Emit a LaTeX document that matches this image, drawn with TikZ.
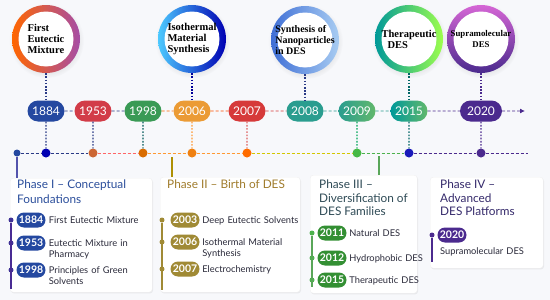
\documentclass[tikz,border=0pt]{standalone}
\usepackage{fontspec}
\newfontfamily\uifont[Ligatures=TeX]{Lato}
\newfontfamily\circfont{Liberation Serif}
\usetikzlibrary{positioning,shapes.misc,shadows,arrows.meta}
\definecolor{bgpage}{HTML}{F7F8FB}
\definecolor{navy}{HTML}{2A3A86}
\definecolor{blueA}{HTML}{2448A0}
\definecolor{redA}{HTML}{D23C48}
\definecolor{greenA}{HTML}{3A9A55}
\definecolor{orangeA}{HTML}{EB9B35}
\definecolor{redB}{HTML}{D63A3A}
\definecolor{tealA}{HTML}{2A9D8F}
\definecolor{limeA}{HTML}{62B86C}
\definecolor{purpleA}{HTML}{4B2A8E}
\definecolor{oliveA}{HTML}{A08A35}
\definecolor{titleI}{HTML}{2B4E9B}
\definecolor{titleII}{HTML}{A07C2C}
\definecolor{titleIII}{HTML}{2E4A55}
\definecolor{titleIV}{HTML}{352A6B}
\definecolor{itemink}{HTML}{2A2A3A}
\definecolor{ringC}{HTML}{3F6FD6}
\definecolor{ringCb}{HTML}{A8CCF2}
\tikzset{
  ring/.style={circle,minimum size=68pt,inner sep=0pt,circular drop shadow={opacity=0.12,shadow xshift=0.5pt,shadow yshift=-1.5pt},
    path picture={\fill[white] (path picture bounding box.center) circle (27.5pt);}},
  bubble/.style={inner sep=0pt,align=left,font=\circfont\bfseries\fontsize{10.5}{11}\selectfont},
  yearpill/.style={rounded rectangle,minimum height=21pt,minimum width=39pt,inner sep=1pt,text=white,font=\uifont\fontsize{12}{12}\selectfont},
  minipill/.style={rounded rectangle,minimum height=15pt,minimum width=31pt,inner sep=1pt,text=white,font=\uifont\bfseries\fontsize{10.5}{10.5}\selectfont},
  tdot/.style={circle,inner sep=0pt,minimum size=9pt},
  sdot/.style={circle,inner sep=0pt,minimum size=5pt},
  vdot/.style={dash pattern=on 1.6pt off 1.6pt,line width=1.2pt},
  hdash/.style={dash pattern=on 3pt off 2pt,line width=0.9pt},
  phasebox/.style={rectangle,rounded corners=3pt,fill=white,draw=black!6,anchor=north west,drop shadow={opacity=0.12,shadow xshift=0.8pt,shadow yshift=-1.2pt}},
  phasetitle/.style={anchor=north west,inner sep=0pt,align=left,font=\uifont\fontsize{11.8}{14.5}\selectfont},
  itemtext/.style={anchor=base west,inner sep=0pt,align=left,text width=115pt,text=itemink,font=\uifont\fontsize{9.3}{11}\selectfont}
}
\begin{document}
\begin{tikzpicture}[x=1pt,y=-1pt]
\useasboundingbox (0,0) rectangle (550,300);
\fill[bgpage] (0,0) rectangle (550,300);

\node[ring,left color=orange!80!red,right color=violet!70] (c1) at (46,39) {};
\node[bubble] (c1t) at (c1) {First\\Eutectic\\Mixture};
\node[ring,left color=cyan!70!blue!70,right color=blue!70!black] (c2) at (192,39) {};
\node[bubble] (c2t) at (c2) {Isothermal\\Material\\Synthesis};
\node[ring,left color=ringC,right color=ringCb] (c3) at (305,40) {};
\node[bubble,font=\circfont\bfseries\fontsize{10}{11}\selectfont] (c3t) at (c3) {Synthesis of\\Nanoparticles\\in DES};
\node[ring,left color=teal!80!cyan,right color=lime!60!green!70] (c4) at (409,39) {};
\node[bubble] (c4t) at (c4) {Therapeutic\\\hspace{6pt}DES};
\node[ring,top color=violet!55!magenta!60,bottom color=purpleA] (c5) at (481,39) {};
\node[bubble,align=center,font=\circfont\bfseries\fontsize{8.8}{11}\selectfont] (c5t) at (c5) {Supramolecular\\DES};

\node[yearpill,fill=blueA] (y1) at (46,111) {1884};
\node[yearpill,fill=redA] (y2) at (93,111) {1953};
\node[yearpill,fill=greenA] (y3) at (143,111) {1998};
\node[yearpill,fill=orangeA] (y4) at (192,111) {2006};
\node[yearpill,fill=redB] (y5) at (247,111) {2007};
\node[yearpill,fill=tealA] (y6) at (305,111) {2008};
\node[yearpill,left color=tealA,right color=limeA] (y7) at (357,111) {2009};
\node[yearpill,left color=teal!80!cyan,right color=limeA] (y8) at (409,111) {2015};
\node[yearpill,fill=purpleA,minimum width=44pt] (y9) at (481,111) {2020};
\coordinate (yend) at (525,111);

\draw[vdot,navy] (c1) -- (y1);
\draw[vdot,blue!60!black] (c2) -- (y4);
\draw[vdot,navy] (c3) -- (y6);
\draw[vdot,teal!80!black] (c4) -- (y8);
\draw[vdot,purpleA] (c5) -- (y9);

\draw[hdash,navy] (y1) -- (y2);
\draw[hdash,navy] (y2) -- (y3);
\draw[hdash,orange!80!red] (y3) -- (y4);
\draw[hdash,orange!60!red] (y4) -- (y5);
\draw[hdash,redB] (y5) -- (y6);
\draw[hdash,tealA] (y6) -- (y7);
\draw[hdash,tealA] (y7) -- (y8);
\draw[hdash,purpleA] (y8) -- (y9);
\draw[hdash,purpleA,-{Latex[length=5pt,width=5pt]}] (y9) -- (yend);

\node[sdot,fill=blueA,minimum size=7pt] (d0) at (17,153) {};
\node[tdot,fill=blue!70!black] (d1) at (46,153) {};
\node[tdot,fill=brown!80!red] (d2) at (93,153) {};
\node[tdot,fill=orange!85!black] (d3) at (143,153) {};
\node[tdot,fill=orange!75!brown] (d4) at (192,153) {};
\node[tdot,fill=orange!85!red] (d5) at (247,153) {};
\node[tdot,fill=green!45!gray] (d6) at (357,153) {};
\node[tdot,fill=blue!70!black!90] (d7) at (409,153) {};
\node[tdot,fill=purpleA] (d8) at (481,153) {};
\coordinate (dend) at (528,153);

\draw[vdot,navy] (y1) -- (d1);
\draw[vdot,navy] (y2) -- (d2);
\draw[vdot,teal!70!black] (y3) -- (d3);
\draw[vdot,orange!80!white] (y4) -- (d4);
\draw[vdot,redB!80] (y5) -- (d5);
\draw[vdot,teal!70!green] (y7) -- (d6);
\draw[vdot,teal!80!black] (y8) -- (d7);
\draw[vdot,purpleA] (y9) -- (d8);

\draw[hdash,navy] (d0) -- (d1);
\draw[hdash,navy] (d1) -- (d2);
\draw[hdash,red!60!white] (d2) -- (d3);
\draw[hdash,orange!80] (d3) -- (d4);
\draw[hdash,orange!80] (d4) -- (d5);
\draw[hdash,yellow!60!olive] (d5) -- (d6);
\draw[hdash,green!40!gray] (d6) -- (d7);
\draw[hdash,purpleA] (d7) -- (d8);
\draw[hdash,purpleA] (d8) -- (dend);

\node[phasebox,minimum width=142pt,minimum height=114pt] (b1) at (10,178) {};
\node[phasebox,minimum width=140pt,minimum height=115pt] (b2) at (160,177) {};
\node[phasebox,minimum width=107pt,minimum height=118pt] (b3) at (310,175) {};
\node[phasebox,minimum width=113pt,minimum height=91pt] (b4) at (430,177) {};

\coordinate (k2) at (172,157);
\coordinate (k3) at (379,156);
\draw[line width=1.2pt,blue!35!gray] (d0) -- (d0 |- b1.north);
\draw[line width=1.2pt,olive!70!orange] (k2) -- (k2 |- b2.north);
\draw[line width=1.2pt,gray!70!green] (k3) -- (k3 |- b3.north);

\node[phasetitle,text=titleI] (h1) at (17,180) {Phase I -- Conceptual\\Foundations};
\node[phasetitle,text=titleII] (h2) at (167,180) {Phase II -- Birth of DES};
\node[phasetitle,text=titleIII,font=\uifont\fontsize{11.8}{13.5}\selectfont] (h3) at (319,180) {Phase III --\\Diversification of\\DES Families};
\node[phasetitle,text=titleIV,font=\uifont\fontsize{11.8}{13.5}\selectfont] (h4) at (440,180) {Phase IV --\\Advanced\\DES Platforms};

\node[sdot,fill=blueA!70!violet] (e11) at (11,220) {};
\node[sdot,fill=blueA!70!violet] (e12) at (11,243) {};
\node[sdot,fill=blueA!70!violet] (e13) at (11,270) {};
\coordinate (f1) at (11,289);
\draw[line width=1.3pt,blueA!60!violet] (e11) -- (f1);
\node[minipill,fill=blueA] (m11) at (31,220) {1884};
\node[minipill,fill=blueA] (m12) at (31,243) {1953};
\node[minipill,fill=blueA] (m13) at (31,270) {1998};
\node[itemtext] (t11) at ([xshift=3pt]m11.base east) {First Eutectic Mixture};
\node[itemtext] (t12) at ([xshift=3pt]m12.base east) {Eutectic Mixture in\\Pharmacy};
\node[itemtext] (t13) at ([xshift=3pt]m13.base east) {Principles of Green\\Solvents};

\node[sdot,fill=oliveA] (e21) at (162,220) {};
\node[sdot,fill=oliveA] (e22) at (162,242) {};
\node[sdot,fill=oliveA] (e23) at (162,269) {};
\coordinate (f2) at (162,290);
\draw[line width=1.3pt,oliveA] (e21) -- (f2);
\node[minipill,fill=oliveA] (m21) at (185,220) {2003};
\node[minipill,fill=oliveA] (m22) at (185,242) {2006};
\node[minipill,fill=oliveA] (m23) at (185,269) {2007};
\node[itemtext] (t21) at ([xshift=2.5pt]m21.base east) {Deep Eutectic Solvents};
\node[itemtext] (t22) at ([xshift=2.5pt]m22.base east) {Isothermal Material\\Synthesis};
\node[itemtext] (t23) at ([xshift=2.5pt]m23.base east) {Electrochemistry};

\node[sdot,fill=green!40!gray] (e31) at (312,233) {};
\node[sdot,fill=green!40!gray] (e32) at (312,258) {};
\node[sdot,fill=green!40!gray] (e33) at (312,280) {};
\coordinate (f3) at (312,287);
\draw[line width=1.3pt,gray!70!green] (e31) -- (f3);
\node[minipill,fill=green!45!black!80] (m31) at (332,233) {2011};
\node[minipill,fill=green!45!black!80] (m32) at (332,258) {2012};
\node[minipill,fill=green!45!black!80] (m33) at (332,280) {2015};
\node[itemtext] (t31) at ([xshift=2.5pt]m31.base east) {Natural DES};
\node[itemtext] (t32) at ([xshift=2.5pt]m32.base east) {Hydrophobic DES};
\node[itemtext] (t33) at ([xshift=2.5pt]m33.base east) {Therapeutic DES};

\node[sdot,fill=purpleA] (e41) at (432,235) {};
\coordinate (f4) at (432,262);
\draw[line width=1.3pt,purpleA] (e41) -- (f4);
\node[minipill,fill=purpleA] (m41) at (452,235) {2020};
\node[itemtext,anchor=west] (t41) at (440,252) {Supramolecular DES};
\end{tikzpicture}
\end{document}
